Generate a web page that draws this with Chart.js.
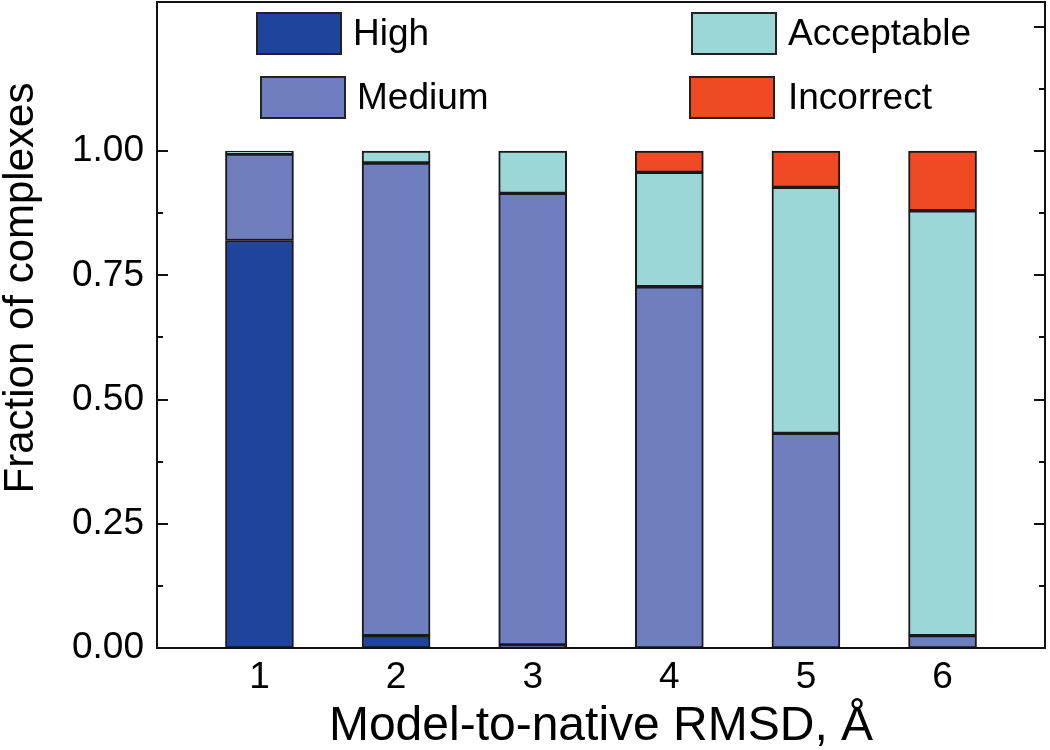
<!DOCTYPE html>
<html>
<head>
<meta charset="utf-8">
<script src="https://cdn.jsdelivr.net/npm/chart.js@4"></script>
<style>
  body { margin: 0; background: #fff; }
  #wrap { width: 1050px; height: 750px; }
</style>
</head>
<body>
<div id="wrap"><canvas id="myChart"></canvas></div>
<script>
// data
var rmsd = [1, 2, 3, 4, 5, 6];
var xTicks = [1, 2, 3, 4, 5, 6];
var yTicks = [0, 0.25, 0.5, 0.75, 1];
var high = [0.82, 0.025, 0.006, 0, 0, 0];
var medium = [0.174, 0.951, 0.909, 0.727, 0.432, 0.025];
var acceptable = [0.006, 0.024, 0.085, 0.23, 0.495, 0.855];
var incorrect = [0, 0, 0, 0.043, 0.073, 0.12];
var seriesNames = ['High', 'Medium', 'Acceptable', 'Incorrect'];
var colors = ['#1f449b', '#6e7ebf', '#9bd7d7', '#ef4a23'];

var fontFam = '"Liberation Sans", Arial, sans-serif';

function points(vals) {
    return vals.map(function (v, i) { return { x: rmsd[i], y: v }; });
}

// legend boxes placed inside the plot like the original
var legendPos = [
    { bx: 257, by: 13, tx: 353 },
    { bx: 261, by: 77, tx: 357 },
    { bx: 692, by: 13, tx: 788 },
    { bx: 690, by: 77, tx: 788 }
];

var framePlugin = {
    id: 'frame',
    afterDraw: function (chart) {
        var ctx = chart.ctx;
        var a = chart.chartArea;
        var y = chart.scales.y;
        ctx.save();
        ctx.strokeStyle = '#111';
        ctx.lineWidth = 2;
        ctx.strokeRect(a.left, a.top, a.right - a.left, a.bottom - a.top);

        // tick marks pointing inward
        for (var v = 0; v <= 1.2501; v += 0.125) {
            var py = Math.round(y.getPixelForValue(v));
            var major = Math.abs(v / 0.25 - Math.round(v / 0.25)) < 1e-6;
            var len = major ? 11 : 6;
            ctx.beginPath();
            if (v <= 1.0001) {
                ctx.moveTo(a.left, py); ctx.lineTo(a.left + len, py);
            }
            ctx.moveTo(a.right, py); ctx.lineTo(a.right - len, py);
            ctx.stroke();
        }

        // legend
        ctx.font = '37px ' + fontFam;
        ctx.textBaseline = 'middle';
        ctx.textAlign = 'left';
        chart.data.datasets.forEach(function (ds, i) {
            var p = legendPos[i];
            ctx.fillStyle = ds.backgroundColor;
            ctx.fillRect(p.bx, p.by, 84, 41);
            ctx.lineWidth = 2;
            ctx.strokeStyle = '#222';
            ctx.strokeRect(p.bx, p.by, 84, 41);
            ctx.fillStyle = '#000';
            ctx.fillText(ds.label, p.tx, p.by + 22);
        });

        // axis titles
        ctx.fillStyle = '#000';
        ctx.textAlign = 'center';
        ctx.textBaseline = 'alphabetic';
        ctx.font = '48px ' + fontFam;
        ctx.fillText('Model-to-native RMSD, \u00c5', (a.left + a.right) / 2, 740);
        ctx.save();
        ctx.translate(33, 288);
        ctx.rotate(-Math.PI / 2);
        ctx.font = '42px ' + fontFam;
        ctx.fillText('Fraction of complexes', 0, 0);
        ctx.restore();
        ctx.restore();
    }
};

var series = [high, medium, acceptable, incorrect];
var datasets = series.map(function (vals, i) {
    return {
        label: seriesNames[i],
        data: points(vals),
        backgroundColor: colors[i],
        borderColor: '#1a1a1a',
        borderWidth: 2,
        borderSkipped: false,
        barThickness: 68
    };
});

var ctx1 = document.getElementById('myChart');
var myChart = new Chart(ctx1, {
    type: 'bar',
    data: { datasets: datasets },
    options: {
        responsive: true,
        maintainAspectRatio: false,
        animation: false,
        layout: { padding: { left: 0, right: 5, top: 2, bottom: 0 } },
        plugins: {
            legend: { display: false },
            tooltip: { enabled: false }
        },
        scales: {
            x: {
                type: 'linear',
                stacked: true,
                offset: false,
                min: 0.25,
                max: 6.75,
                grid: { display: false, drawTicks: false, offset: false },
                border: { display: false },
                afterBuildTicks: function (s) {
                    s.ticks = xTicks.map(function (v) { return { value: v }; });
                },
                afterFit: function (s) {
                    s.height = 102;
                    s.paddingLeft = 0;
                    s.paddingRight = 0;
                },
                ticks: {
                    color: '#000',
                    padding: 8,
                    font: { family: fontFam, size: 37 },
                    callback: function (v) { return String(v); }
                }
            },
            y: {
                stacked: true,
                min: 0,
                max: 1.3,
                grid: { display: false, drawTicks: false },
                border: { display: false },
                afterBuildTicks: function (s) {
                    s.ticks = yTicks.map(function (v) { return { value: v }; });
                },
                afterFit: function (s) {
                    s.width = 157;
                    s.paddingTop = 0;
                    s.paddingBottom = 0;
                },
                ticks: {
                    color: '#000',
                    padding: 13,
                    font: { family: fontFam, size: 37 },
                    callback: function (v) { return Number(v).toFixed(2); }
                }
            }
        }
    },
    plugins: [framePlugin]
});
</script>
</body>
</html>
